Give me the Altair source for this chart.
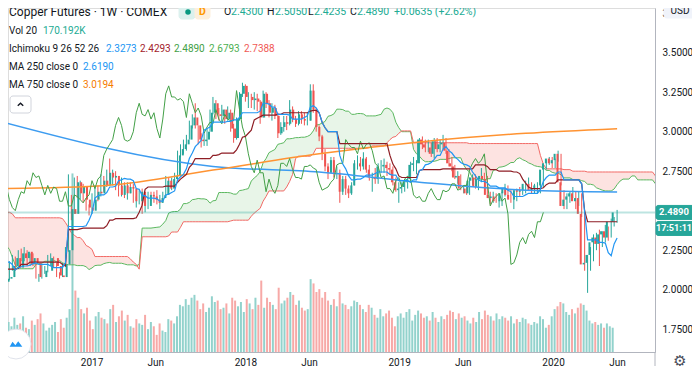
import altair as alt
import pandas as pd

FONT = "Roboto"
INK = "#131722"
UP, DOWN = "#26a69a", "#ef5350"
UPV, DOWNV = "#92d2cc", "#f7a9a7"

# ---------------- weekly candles (Jun 6 2016 .. Jun 1 2020) ----------------
c16 = [2.07,2.08,2.15,2.20,2.14,2.23,2.20,2.24,2.16,2.20,2.17,2.08,2.08,2.12,2.12,2.20,2.20,2.15,2.09,2.08,2.16,2.25,2.51,2.48,2.68,2.61,2.65,2.57,2.52,2.50]
h16 = [2.10,2.11,2.18,2.22,2.21,2.25,2.26,2.27,2.25,2.23,2.23,2.18,2.10,2.16,2.15,2.22,2.23,2.21,2.17,2.11,2.17,2.27,2.73,2.60,2.71,2.72,2.69,2.67,2.58,2.54]
l16 = [2.03,2.04,2.06,2.12,2.12,2.14,2.18,2.18,2.15,2.15,2.15,2.07,2.05,2.07,2.10,2.11,2.15,2.14,2.08,2.07,2.08,2.15,2.24,2.44,2.48,2.58,2.57,2.55,2.50,2.47]
v16 = [210,180,240,190,200,250,170,160,220,190,230,270,200,150,170,190,210,140,230,170,240,300,1250,430,380,300,270,310,220,160]

c17 = [2.57,2.62,2.61,2.69,2.66,2.74,2.71,2.72,2.66,2.60,2.66,2.61,2.65,2.64,2.56,2.56,2.62,2.53,2.53,2.60,2.59,2.57,2.55,2.58,2.60,2.69,
       2.64,2.70,2.72,2.85,2.89,2.92,2.95,3.04,3.09,3.04,2.95,2.94,2.95,3.00,3.12,3.18,3.11,3.10,3.14,3.08,3.12,3.02,2.96,3.08,3.24,3.29]
h17 = [2.61,2.66,2.66,2.73,2.72,2.76,2.83,2.76,2.75,2.67,2.71,2.68,2.68,2.68,2.67,2.59,2.63,2.64,2.56,2.62,2.62,2.62,2.63,2.60,2.62,2.72,
       2.71,2.71,2.74,2.88,2.92,2.95,2.98,3.07,3.11,3.18,3.04,2.99,2.99,3.02,3.14,3.22,3.20,3.15,3.17,3.14,3.16,3.14,3.05,3.09,3.25,3.31]
l17 = [2.48,2.55,2.56,2.59,2.62,2.65,2.69,2.66,2.63,2.59,2.59,2.58,2.57,2.61,2.55,2.52,2.54,2.48,2.49,2.51,2.56,2.55,2.54,2.51,2.55,2.59,
       2.62,2.63,2.67,2.71,2.84,2.86,2.88,2.95,3.02,3.02,2.92,2.90,2.91,2.91,3.00,3.11,3.08,3.07,3.06,3.05,3.07,3.00,2.93,2.95,3.07,3.22]
v17 = [250,280,240,230,200,300,330,210,250,290,220,260,180,170,230,200,190,260,160,210,180,120,200,150,140,230,
       220,200,250,330,320,370,330,380,400,360,300,340,280,310,390,350,360,300,310,340,270,380,360,320,350,280]

c18 = [3.22,3.22,3.20,3.21,3.19,3.09,3.24,3.18,3.12,3.15,3.10,2.99,3.03,3.06,3.05,3.14,3.08,3.05,3.11,3.08,
       3.07,3.07,3.26,3.14,3.03,2.97,2.86,2.78,2.74,2.82,2.74,2.74,2.62,2.70,2.64,2.61,2.66,2.80,2.80,2.78,
       2.83,2.76,2.71,2.71,2.70,2.78,2.78,2.79,2.77,2.76,2.68,2.63]
h18 = [3.30,3.25,3.24,3.25,3.24,3.20,3.26,3.25,3.20,3.18,3.17,3.12,3.06,3.10,3.10,3.20,3.16,3.10,3.13,3.13,
       3.12,3.12,3.30,3.30,3.15,3.04,2.98,2.89,2.80,2.84,2.84,2.78,2.76,2.72,2.72,2.66,2.68,2.82,2.85,2.84,
       2.87,2.84,2.79,2.74,2.77,2.80,2.82,2.83,2.81,2.80,2.78,2.71]
l18 = [3.19,3.15,3.15,3.14,3.13,3.05,3.09,3.15,3.09,3.07,3.08,2.96,2.98,3.00,3.01,3.04,3.06,3.03,3.04,3.05,
       3.04,3.04,3.07,3.12,3.00,2.94,2.82,2.75,2.70,2.74,2.71,2.70,2.55,2.60,2.60,2.58,2.60,2.66,2.76,2.75,
       2.76,2.74,2.69,2.62,2.67,2.67,2.74,2.74,2.72,2.73,2.66,2.62]
v18 = [370,340,300,380,330,500,310,380,350,330,300,450,340,360,380,420,400,330,360,310,
       290,300,510,480,420,440,380,420,360,330,370,320,420,340,330,300,320,360,350,330,
       300,280,330,310,260,240,300,250,270,290,240,180]

c19 = [2.64,2.65,2.68,2.70,2.79,2.80,2.80,2.95,2.92,2.90,2.90,2.86,2.94,2.89,2.92,2.93,2.88,2.80,2.78,2.71,
       2.72,2.64,2.64,2.61,2.69,2.71,2.65,2.70,2.72,2.70,2.60,2.58,2.59,2.56,2.56,2.61,2.64,2.60,2.57,2.57,
       2.63,2.62,2.63,2.67,2.67,2.63,2.64,2.66,2.66,2.76,2.80,2.83,2.80]
h19 = [2.68,2.68,2.70,2.72,2.81,2.84,2.82,2.96,2.97,2.95,2.95,2.93,2.96,2.96,2.95,2.98,2.96,2.89,2.84,2.79,
       2.75,2.73,2.66,2.67,2.71,2.73,2.73,2.71,2.77,2.74,2.72,2.62,2.62,2.61,2.60,2.62,2.67,2.66,2.63,2.60,
       2.64,2.65,2.65,2.69,2.71,2.68,2.67,2.68,2.69,2.78,2.82,2.84,2.84]
l19 = [2.55,2.61,2.62,2.64,2.68,2.75,2.73,2.80,2.89,2.87,2.87,2.84,2.83,2.87,2.87,2.89,2.86,2.78,2.75,2.70,
       2.67,2.63,2.61,2.60,2.60,2.66,2.64,2.63,2.68,2.68,2.58,2.54,2.55,2.55,2.52,2.53,2.59,2.58,2.55,2.51,
       2.56,2.59,2.60,2.61,2.64,2.61,2.61,2.61,2.61,2.65,2.76,2.79,2.77]
v19 = [250,270,240,280,300,220,260,290,270,240,250,220,280,240,210,250,230,260,290,280,
       230,270,240,250,220,200,240,210,280,230,290,260,250,220,270,230,250,240,220,250,
       200,230,210,240,230,200,190,210,200,250,230,170,190]

c20 = [2.82,2.86,2.68,2.53,2.57,2.59,2.61,2.56,2.58,2.48,2.16,2.17,2.22,2.30,2.33,2.29,2.35,2.37,2.33,2.43,2.43,2.489]
h20 = [2.83,2.88,2.86,2.63,2.61,2.62,2.65,2.62,2.62,2.61,2.49,2.22,2.27,2.35,2.36,2.38,2.37,2.41,2.40,2.45,2.46,2.505]
l20 = [2.77,2.81,2.66,2.51,2.51,2.55,2.58,2.51,2.53,2.46,2.12,1.98,2.12,2.18,2.25,2.15,2.27,2.30,2.31,2.33,2.40,2.4235]
v20 = [250,300,320,350,340,280,260,300,270,310,340,330,290,220,200,210,190,200,170,200,180,170]

first_open = 2.05
last_open = 2.43

# ---------------- earlier weekly highs / lows (Dec 15 2014 .. May 30 2016), feed the Ichimoku windows ----------------
pre_high = [2.92,2.91,2.89,2.82,2.73,2.62,2.57,2.62,2.60,2.65,2.73,2.72,2.70,2.78,2.82,2.80,2.80,2.78,2.80,2.95,
            2.97,2.96,2.91,2.85,2.78,2.75,2.69,2.72,2.68,2.62,2.60,2.57,2.45,2.42,2.42,2.36,2.38,2.40,2.38,2.45,
            2.42,2.38,2.43,2.48,2.45,2.41,2.38,2.24,2.17,2.10,2.12,2.13,2.10,2.17,2.17,2.14,2.03,2.04,2.08,2.10,
            2.10,2.12,2.15,2.28,2.30,2.28,2.27,2.24,2.18,2.21,2.30,2.32,2.29,2.17,2.12,2.10,2.13]
pre_low = [2.83,2.85,2.78,2.70,2.53,2.48,2.44,2.50,2.50,2.55,2.57,2.60,2.57,2.63,2.71,2.70,2.70,2.67,2.65,2.78,
           2.85,2.85,2.77,2.72,2.65,2.63,2.59,2.60,2.53,2.47,2.50,2.36,2.33,2.28,2.28,2.22,2.20,2.26,2.26,2.33,
           2.28,2.27,2.33,2.37,2.33,2.30,2.22,2.12,2.03,2.01,2.03,2.05,2.02,2.08,2.12,1.99,1.94,1.95,2.00,2.02,
           2.00,2.05,2.06,2.12,2.20,2.20,2.17,2.16,2.10,2.11,2.18,2.20,2.14,2.07,2.05,2.05,2.05]

# ---------------- long moving averages (read at week indices) ----------------
ma250_idx = [0, 71, 107, 141, 177, 208]
ma250_val = [3.06, 2.78, 2.745, 2.68, 2.63, 2.619]
ma750_idx = [0, 35, 71, 107, 141, 177, 208]
ma750_val = [2.64, 2.66, 2.757, 2.86, 2.935, 2.99, 3.0194]

close = c16 + c17 + c18 + c19 + c20
high = h16 + h17 + h18 + h19 + h20
low = l16 + l17 + l18 + l19 + l20
vol = v16 + v17 + v18 + v19 + v20
assert len(close) == len(high) == len(low) == len(vol) == 209
assert len(pre_high) == len(pre_low) == 77
opens = [first_open] + close[:-1]
opens[-1] = last_open

dates = pd.date_range("2016-06-06", periods=len(close), freq="W-MON")
pre_dates = pd.date_range("2014-12-15", periods=len(pre_high), freq="W-MON")
fmt = lambda d: d.strftime("%Y-%m-%d")

candles = pd.DataFrame({"t": [fmt(d) for d in dates], "o": opens, "h": high, "l": low, "c": close, "v": vol})
candles["col"] = [UP if c >= o else DOWN for o, c in zip(candles.o, candles.c)]
candles["vcol"] = [UPV if c >= o else DOWNV for o, c in zip(candles.o, candles.c)]

# Ichimoku 9 26 52 26
all_dates = pre_dates.append(dates)
H = pd.Series(pre_high + high)
L = pd.Series(pre_low + low)
conv = (H.rolling(9).max() + L.rolling(9).min()) / 2
base = (H.rolling(26).max() + L.rolling(26).min()) / 2
spanA = (conv + base) / 2
spanB = (H.rolling(52).max() + L.rolling(52).min()) / 2
shift = pd.Timedelta(weeks=25)

cb = pd.DataFrame({"t": all_dates, "conv": conv, "base": base}).dropna()
cb = cb[cb.t >= pd.Timestamp("2016-05-01")]
cb["t"] = cb.t.map(fmt)

lead = pd.DataFrame({"t": all_dates + shift, "A": spanA, "B": spanB}).dropna()
lead = lead[lead.t >= pd.Timestamp("2016-05-01")]
lead["top"] = lead[["A", "B"]].max(axis=1)
lead["t"] = lead.t.map(fmt)

lag = pd.DataFrame({"t": dates - shift, "lag": close})
lag = lag[lag.t >= pd.Timestamp("2016-05-01")]
lag["t"] = lag.t.map(fmt)

ma250 = pd.DataFrame({"t": [fmt(dates[i]) for i in ma250_idx], "ma": ma250_val})
ma750 = pd.DataFrame({"t": [fmt(dates[i]) for i in ma750_idx], "ma": ma750_val})

# ---------------- scales ----------------
W, Hh = 647, 344
YTOP = 3.0 + (131.7 - 8) / 158
YBOT = YTOP - Hh / 158
ms = lambda ts: int(pd.Timestamp(ts).value // 10**6)
t_left = pd.Timestamp("2017-01-02") - pd.Timedelta(days=7 * 84 / 2.95)
t_right = pd.Timestamp("2017-01-02") + pd.Timedelta(days=7 * (W + 8 - 92) / 2.95)
xsc = alt.Scale(type="utc", domain=[ms(t_left), ms(t_right)])
ysc = alt.Scale(domain=[YBOT, YTOP], nice=False, zero=False)
py = lambda p: (YTOP - p) * Hh / (YTOP - YBOT)

tick_dates = ["2017-01-01", "2017-06-01", "2018-01-01", "2018-06-01", "2019-01-01",
              "2019-06-01", "2020-01-01", "2020-06-01"]
xaxis = alt.Axis(orient="bottom", values=[ms(d) for d in tick_dates], title=None,
                 labelExpr="utcFormat(datum.value, '%m') == '01' ? utcFormat(datum.value, '%Y') : utcFormat(datum.value, '%b')",
                 labelColor=INK, labelFont=FONT, labelFontSize=10, ticks=False, labelPadding=5,
                 domainColor="#b2b5be", gridColor="#eef1f7", labelFlush=False, labelOverlap=False)
yaxis = alt.Axis(orient="right", values=[1.75, 2.0, 2.25, 2.5, 2.75, 3.0, 3.25, 3.5, 3.75], format=".4f",
                 title=None, labelColor=INK, labelFont=FONT, labelFontSize=10, ticks=False, labelPadding=7,
                 domainColor="#b2b5be", gridColor="#eef1f7")

X = alt.X("t:T", scale=xsc, axis=None)

def Y(f):
    return alt.Y(f, scale=ysc, axis=None)

vol_layer = alt.Chart(candles).mark_bar(size=2, clip=True).encode(
    x=X, y=alt.Y("v:Q", scale=alt.Scale(domain=[0, Hh * 7], zero=True, nice=False), axis=None),
    color=alt.Color("vcol:N", scale=None))

green_cloud = alt.Chart(lead).mark_area(clip=True, color="#4caf50", opacity=0.13).encode(x=X, y=Y("top:Q"), y2="B:Q")
red_cloud = alt.Chart(lead).mark_area(clip=True, color="#f44336", opacity=0.15).encode(x=X, y=Y("top:Q"), y2="A:Q")
spanA_line = alt.Chart(lead).mark_line(clip=True, color="#5cb860", strokeWidth=1).encode(x=X, y=Y("A:Q"))
spanB_line = alt.Chart(lead).mark_line(clip=True, color="#f26a66", strokeWidth=1).encode(x=X, y=Y("B:Q"))
wicks = alt.Chart(candles).mark_rule(clip=True, strokeWidth=1).encode(
    x=alt.X("t:T", scale=xsc, axis=xaxis), y=alt.Y("l:Q", scale=ysc, axis=yaxis), y2="h:Q",
    color=alt.Color("col:N", scale=None))
bodies = alt.Chart(candles).mark_bar(size=2, clip=True).encode(
    x=X, y=Y("o:Q"), y2="c:Q", color=alt.Color("col:N", scale=None))
ma250_line = alt.Chart(ma250).mark_line(clip=True, color="#3d9cf0", strokeWidth=1.5, interpolate="monotone").encode(x=X, y=Y("ma:Q"))
ma750_line = alt.Chart(ma750).mark_line(clip=True, color="#ff9332", strokeWidth=1.5, interpolate="monotone").encode(x=X, y=Y("ma:Q"))
last_line = alt.Chart(pd.DataFrame({"p": [close[-1]]})).mark_rule(color=UP, opacity=0.3, strokeWidth=2).encode(y=Y("p:Q"))
lag_line = alt.Chart(lag).mark_line(clip=True, color="#43a047", strokeWidth=1).encode(x=X, y=Y("lag:Q"))
base_line = alt.Chart(cb).mark_line(clip=True, color="#8e1d24", strokeWidth=1.2).encode(x=X, y=Y("base:Q"))
conv_line = alt.Chart(cb).mark_line(clip=True, color="#2196f3", strokeWidth=1.2).encode(x=X, y=Y("conv:Q"))

# ---------------- annotations in pixels ----------------
ONE = pd.DataFrame({"k": [0]})

def txt(x, y, s, color, size, align="left", weight="normal", font=FONT):
    return alt.Chart(ONE).mark_text(align=align, baseline="middle", font=font, fontSize=size,
                                    fontWeight=weight, color=color, text=s).encode(
        x=alt.value(x), y=alt.value(y))

def box(x, x2, y, y2, fill, stroke, r=3):
    return alt.Chart(ONE).mark_rect(cornerRadius=r, fill=fill, stroke=stroke, strokeWidth=1).encode(
        x=alt.value(x), x2=alt.value(x2), y=alt.value(y), y2=alt.value(y2))

def pt(x, y, shape, size, fill=None, stroke=None, sw=1):
    kw = dict(shape=shape, size=size, opacity=1, strokeWidth=sw)
    if fill is not None:
        kw.update(filled=True, fill=fill)
    else:
        kw.update(filled=False)
    if stroke is not None:
        kw.update(stroke=stroke)
    return alt.Chart(ONE).mark_point(**kw).encode(x=alt.value(x), y=alt.value(y))

TEAL = "#22ab94"
tag_y = py(close[-1])
annots = [
    box(171, 187, -3, 11, "#dcf1ee", "#dcf1ee"),
    box(187, 202, -3, 11, "#fdefdc", "#fdefdc"),
    box(2, 23, 88, 105, "#ffffff", "#d1d4dc"),
    box(656, 688, -5, 10, "#f0f3fa", "#f0f3fa"),
    box(648, 688, tag_y - 7, tag_y + 7, UP, UP, 2),
    box(648, 688, tag_y + 9, tag_y + 23, UP, UP, 2),
    txt(1, 4, "Copper Futures · 1W · COMEX", INK, 12),
    txt(216, 4, "O", INK, 10.5), txt(223, 4, "2.4300", TEAL, 10.5),
    txt(259, 4, "H", INK, 10.5), txt(267, 4, "2.5050", TEAL, 10.5),
    txt(300, 4, "L", INK, 10.5), txt(306, 4, "2.4235", TEAL, 10.5),
    txt(342, 4, "C", INK, 10.5), txt(349, 4, "2.4890", TEAL, 10.5),
    txt(386, 4, "+0.0635 (+2.62%)", TEAL, 10.5),
    txt(1, 22.7, "Vol 20", INK, 10), txt(35, 22.7, "170.192K", TEAL, 10),
    txt(1, 40.7, "Ichimoku 9 26 52 26", INK, 10),
    txt(98, 40.7, "2.3273", "#2196f3", 10),
    txt(132, 40.7, "2.4293", "#a3222b", 10),
    txt(166, 40.7, "2.4890", "#43a047", 10),
    txt(201, 40.7, "2.6793", "#4caf50", 10),
    txt(236, 40.7, "2.7388", "#f05a56", 10),
    txt(1, 58.7, "MA 250 close 0", INK, 10), txt(75, 58.7, "2.6190", "#2196f3", 10),
    txt(1, 77, "MA 750 close 0", INK, 10), txt(75, 77, "3.0194", "#f57c00", 10),
    txt(194.5, 4, "D", "#ff9800", 10.5, align="center", weight="bold"),
    txt(666, tag_y, "2.4890", "#ffffff", 9.5, align="center", weight="bold"),
    txt(666, tag_y + 16, "17:51:11", "#ffffff", 9, align="center", weight="bold"),
    txt(672, 2.5, "USD", INK, 10, align="center"),
    txt(672, 353, "⚙", "#4a4e5a", 15, align="center", font="DejaVu Sans"),
    pt(180, 4, "circle", 30, fill="#089981"),
    pt(12.5, 96.5, "M -1 0.5 L 0 -0.5 L 1 0.5", 30, stroke=INK, sw=1.4),
    pt(8, 336, "circle", 900, fill="#ffffff", stroke="#e0e3eb"),
    pt(8, 336, "M -1 0.45 L -0.55 -0.35 L -0.1 0.2 L 0.35 -0.45 L 1 0.45 Z", 160, fill="#2196f3"),
    alt.Chart(ONE).mark_rule(color="#b2b5be").encode(x=alt.value(647), y=alt.value(344), y2=alt.value(358)),
]

chart = alt.layer(
    vol_layer, green_cloud, red_cloud, spanA_line, spanB_line, wicks, bodies, last_line,
    ma250_line, ma750_line, lag_line, base_line, conv_line, *annots
).resolve_scale(x="independent", y="independent").properties(
    width=W, height=Hh,
    autosize=alt.AutoSizeParams(type="none"),
    padding={"left": 0, "top": 0, "right": 37, "bottom": 14},
).configure_view(stroke=None).configure(background="white")

chart.save("out.html", embed_options={"renderer": "svg", "actions": False})
